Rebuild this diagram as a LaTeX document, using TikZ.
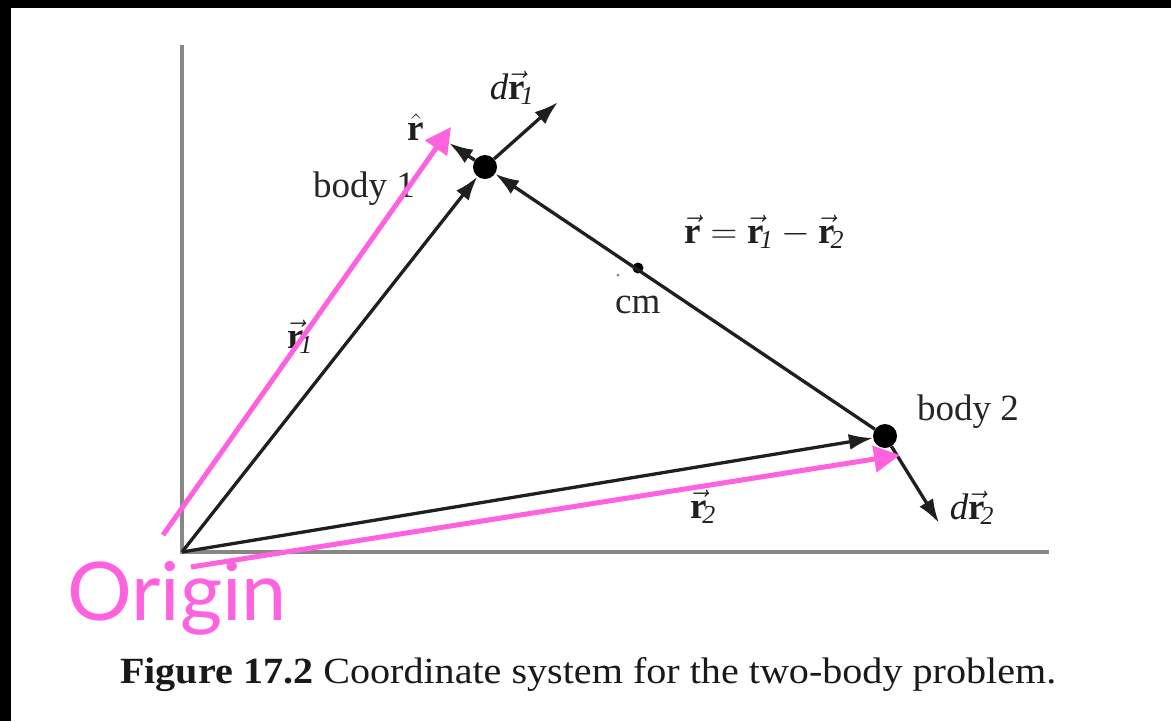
\RequirePackage{fix-cm}
\documentclass[tikz,border=0pt]{standalone}
\usepackage{amsmath}
\usepackage{fontspec}
\setmainfont{Liberation Serif}
\newfontfamily\annfont{Lato}
\usetikzlibrary{arrows.meta}
\definecolor{pinkann}{RGB}{255,98,222}
\definecolor{axisgray}{RGB}{135,135,135}
\newcommand{\vecr}{\vec{\textbf{r}}}
\tikzset{
  axisline/.style={draw=axisgray, line width=3.5pt},
  vecarrow/.style={draw=black!88, line width=3.3pt, -{Latex[length=24pt,width=16pt]}},
  bodydot/.style={circle, fill=black, minimum size=24pt, inner sep=0pt},
  cmdot/.style={circle, fill=black, minimum size=11pt, inner sep=0pt},
  lbl/.style={inner sep=0pt, text=black!85, font=\fontsize{37}{44}\selectfont},
  mlbl/.style={inner sep=0pt, text=black!88, font=\fontsize{37}{44}\selectfont},
  annarrow/.style={draw=pinkann, line width=5pt, -{Triangle[length=26pt,width=26pt]}},
}
\begin{document}
\begin{tikzpicture}[x=1pt,y=-1pt]
\useasboundingbox (0,0) rectangle (1171,721);
\fill[white] (0,0) rectangle (1171,721);
\fill[black] (0,0) rectangle (1171,8);
\fill[black] (0,0) rectangle (11,721);
% axes
\coordinate (O) at (182,552);
\coordinate (ytop) at (182,45);
\coordinate (xend) at (1049,552);
\draw[axisline] (ytop) -- (O) -- (xend);
% bodies
\node[bodydot] (b1) at (485,167) {};
\node[bodydot] (b2) at (885,436) {};
\node[cmdot] (cm) at (638,268) {};
\fill[black!50] (618,275) circle (1.5);
\coordinate (rhat) at (449,143);
\coordinate (dr1) at (558,102);
\coordinate (dr2) at (939,523);
% vectors
\draw[vecarrow] (O) -- (b1);
\draw[vecarrow] (O) -- (b2);
\draw[vecarrow] (b2) -- (b1);
\draw[vecarrow] (b1) -- (rhat);
\draw[vecarrow] (b1) -- (dr1);
\draw[vecarrow] (b2) -- (dr2);
% labels
\node[mlbl] (lrhat) at (416,127) {$\hat{\textbf{r}}$};
\node[mlbl] (ldr1) at (512,88) {$\textit{d}\vecr_{\!\textit{1}}$};
\node[mlbl] (leq) at (764,232) {$\vecr = \vecr_{\!\textit{1}} - \vecr_{\!\textit{2}}$};
\node[mlbl] (lr1) at (300,337) {$\vecr_{\!\textit{1}}$};
\node[mlbl] (lr2) at (703,507) {$\vecr_{\!\textit{2}}$};
\node[mlbl] (ldr2) at (972,508) {$\textit{d}\vecr_{\!\textit{2}}$};
\node[lbl, anchor=base west] (lb1) at (313,197) {body 1};
\node[lbl, anchor=base west] (lb2) at (917,420) {body 2};
\node[lbl, anchor=base west] (lcm) at (615,313) {cm};
% caption
\node[inner sep=0pt, anchor=base west, text=black!90] (cap) at (120,683)
  {\resizebox{936pt}{26pt}{\textbf{Figure 17.2} Coordinate system for the two-body problem.}};
% pink annotation
\coordinate (p1s) at (163,535);
\coordinate (p1e) at (451,127);
\coordinate (p2s) at (191,567);
\coordinate (p2e) at (900,455);
\draw[annarrow] (p1s) -- (p1e);
\draw[annarrow] (p2s) -- (p2e);
\node[inner sep=0pt, anchor=base west, text=pinkann, font=\annfont\fontsize{81}{86}\selectfont] (orig) at (67,620) {Origin};
\end{tikzpicture}
\end{document}
